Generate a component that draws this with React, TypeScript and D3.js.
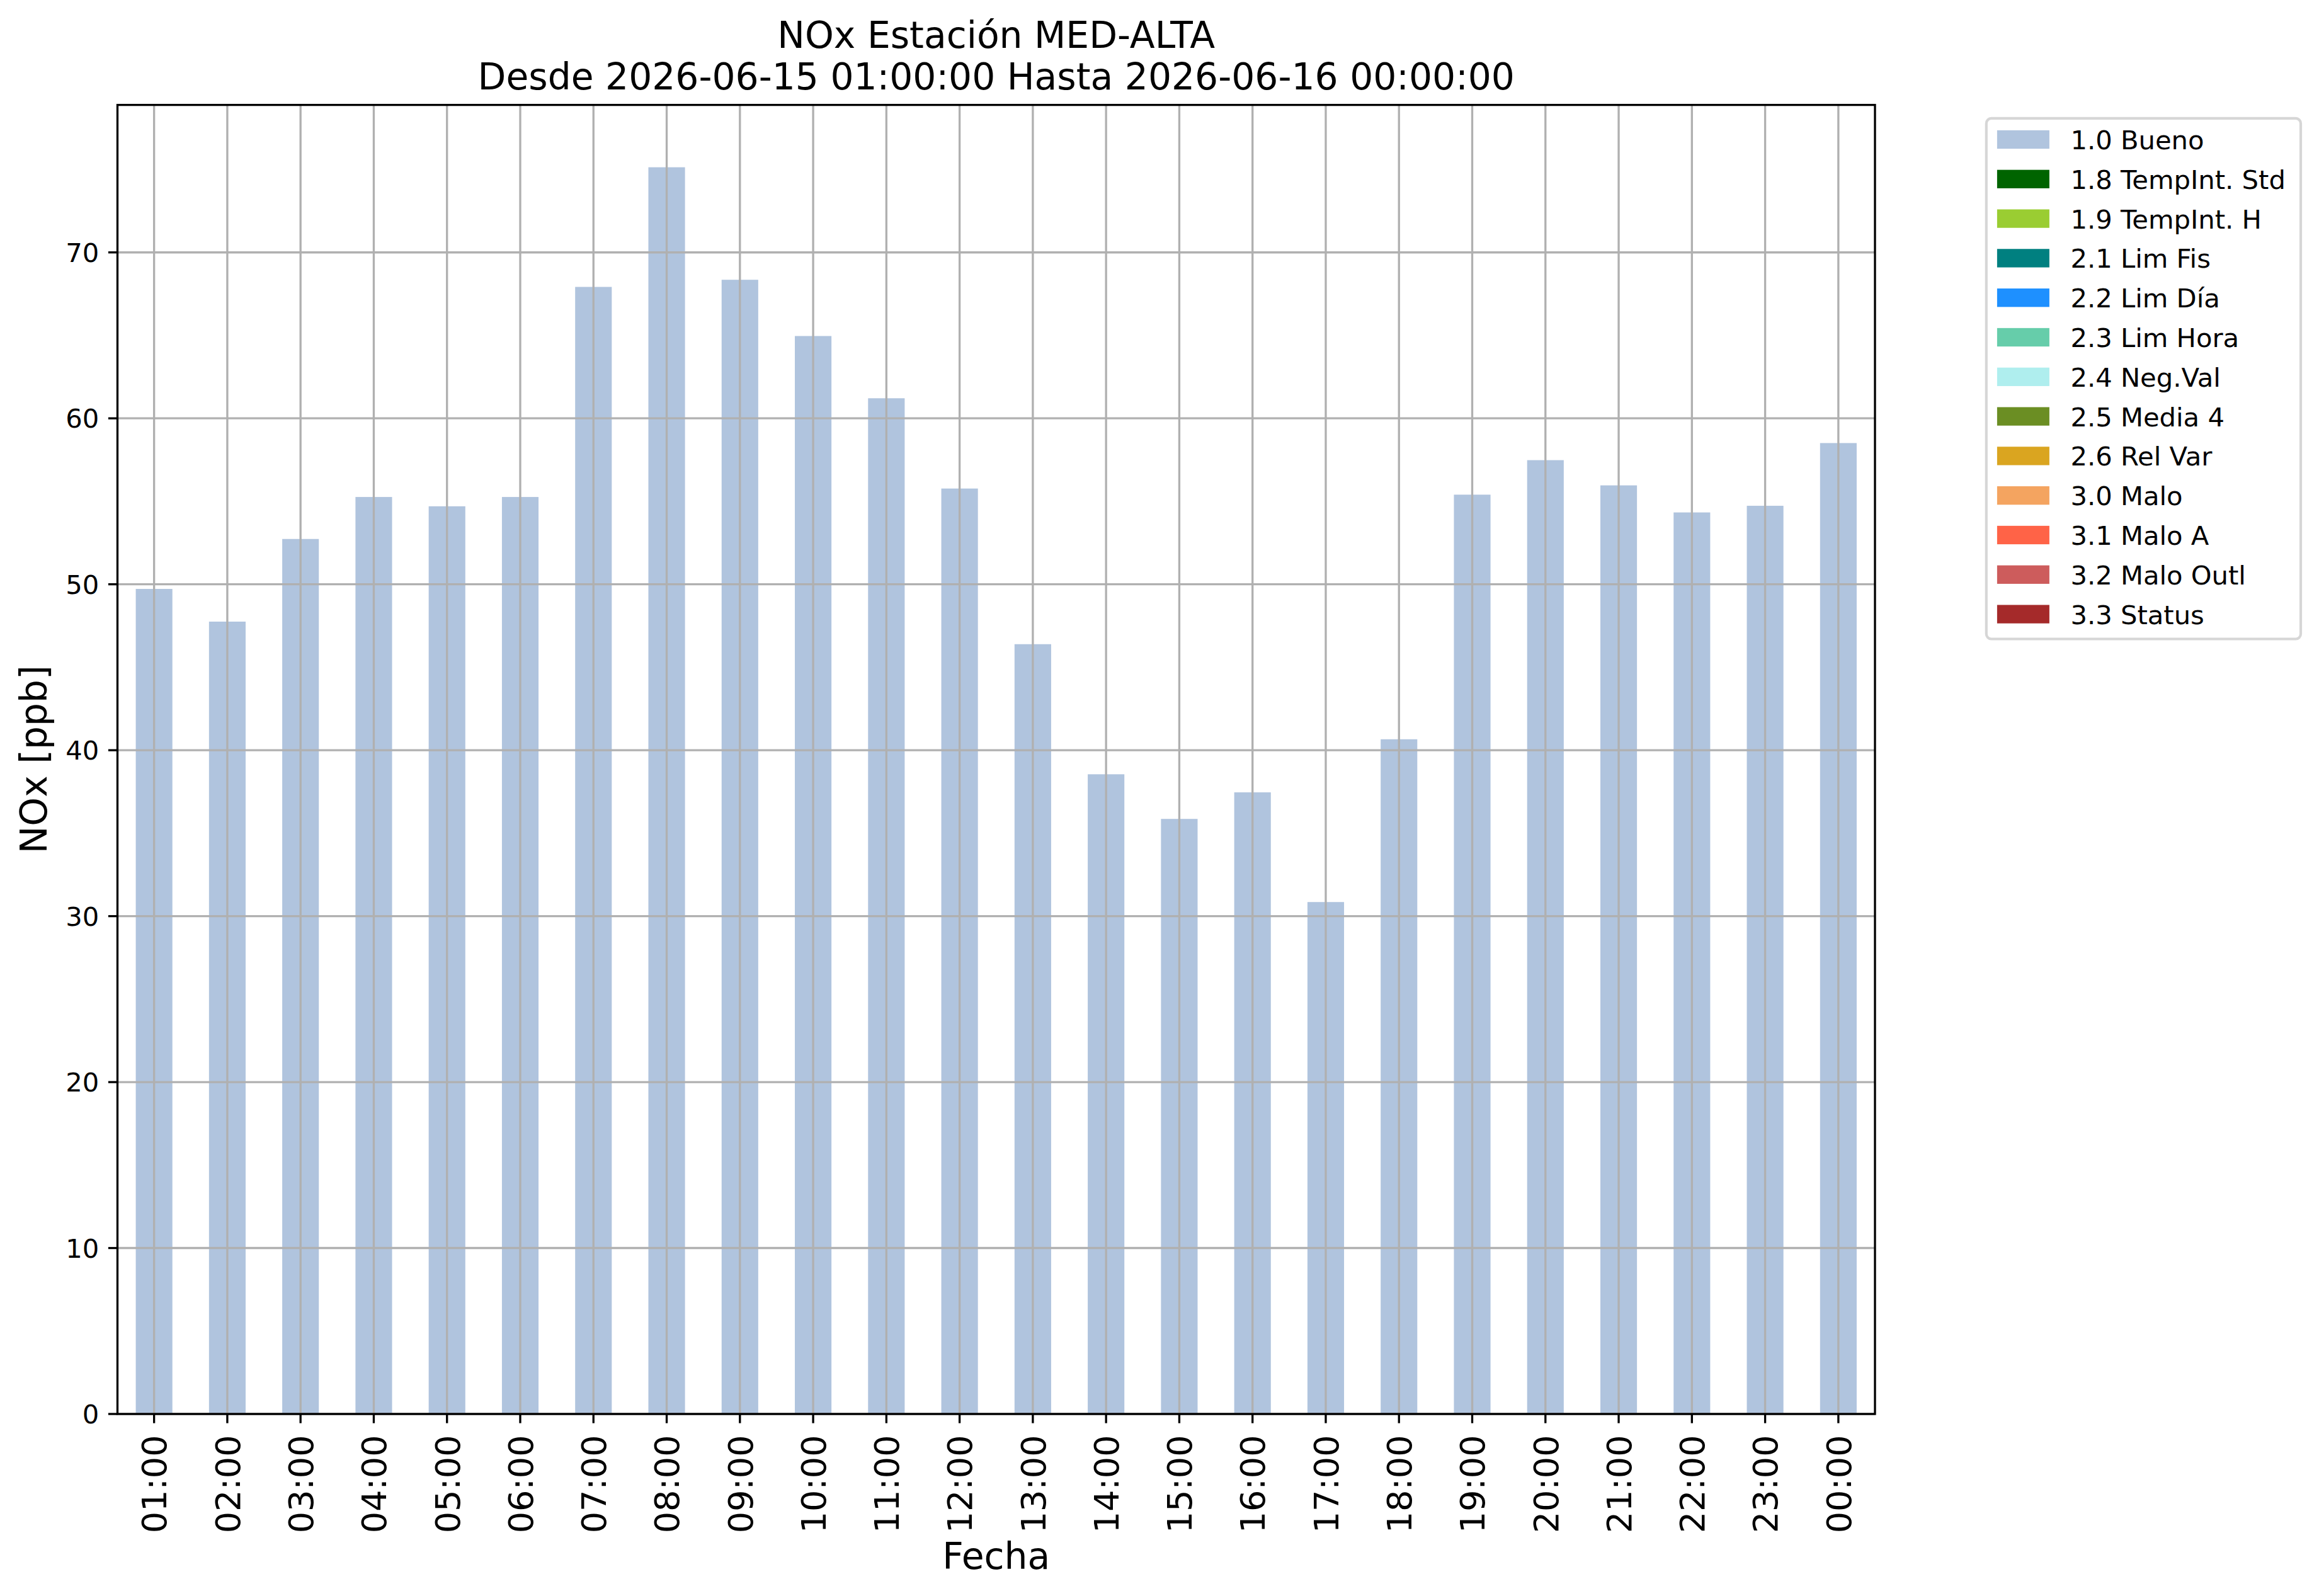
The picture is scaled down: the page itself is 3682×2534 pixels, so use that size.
import React from 'react';
import * as d3 from 'd3';

const hours = ['01:00', '02:00', '03:00', '04:00', '05:00', '06:00', '07:00', '08:00', '09:00', '10:00', '11:00', '12:00',
  '13:00', '14:00', '15:00', '16:00', '17:00', '18:00', '19:00', '20:00', '21:00', '22:00', '23:00', '00:00'];
const noxValues = [49.72, 47.75, 52.73, 55.26, 54.7, 55.26, 67.92, 75.13, 68.35, 64.96, 61.21, 55.77,
  46.39, 38.55, 35.86, 37.46, 30.85, 40.66, 55.4, 57.48, 55.96, 54.33, 54.73, 58.51];
const yTickValues = [0, 10, 20, 30, 40, 50, 60, 70];
const legendLabels = ['1.0 Bueno', '1.8 TempInt. Std', '1.9 TempInt. H', '2.1 Lim Fis', '2.2 Lim Día', '2.3 Lim Hora',
  '2.4 Neg.Val', '2.5 Media 4', '2.6 Rel Var', '3.0 Malo', '3.1 Malo A', '3.2 Malo Outl', '3.3 Status'];
const legendColors = ['#b0c4de', '#006400', '#9acd32', '#008080', '#1e90ff', '#66cdaa', '#afeeee', '#6b8e23',
  '#daa520', '#f4a460', '#ff6347', '#cd5c5c', '#a52a2a'];
const titleLines = ['NOx Estación MED-ALTA', 'Desde 2026-06-15 01:00:00 Hasta 2026-06-16 00:00:00'];
const xLabel = 'Fecha';
const yLabel = 'NOx [ppb]';

const W = 3682;
const H = 2534;
const FONT = "'DejaVu Sans', sans-serif";

export default function App() {
  const left = 186.5, right = 2977, top = 166.6, bottom = 2245;
  const lw = 3.33;
  const tickLen = 14.6;
  const pad = 14.6;

  const x = d3.scaleBand<string>().domain(hours).range([left, right]).paddingInner(0.5).paddingOuter(0.25);
  const ymax = (d3.max(noxValues) as number) * 1.05;
  const y = d3.scaleLinear().domain([0, ymax]).range([bottom, top]);
  const cx = (h: string) => (x(h) as number) + x.bandwidth() / 2;
  const midX = (left + right) / 2;
  const midY = (top + bottom) / 2;

  const legX = 3153.8, legY = 187.9, legW = 3653 - 3153.8, legH = 1014.5 - 187.9;
  const rowStep = 62.8;
  const firstRow = 221.5;

  return (
    <svg width={W} height={H} viewBox={`0 0 ${W} ${H}`} style={{ position: 'absolute', left: 0, top: 0, display: 'block', background: '#fff' }}
      fontFamily={FONT}>
      <rect x={0} y={0} width={W} height={H} fill="#ffffff" />
      {/* bars */}
      {hours.map((h, i) => (
        <rect key={h} x={x(h)} y={y(noxValues[i])} width={x.bandwidth()} height={y(0) - y(noxValues[i])} fill="#b0c4de" />
      ))}
      {/* grid */}
      {hours.map((h) => (
        <line key={'gx' + h} x1={cx(h)} x2={cx(h)} y1={top} y2={bottom} stroke="#b0b0b0" strokeWidth={lw} />
      ))}
      {yTickValues.map((t) => (
        <line key={'gy' + t} x1={left} x2={right} y1={y(t)} y2={y(t)} stroke="#b0b0b0" strokeWidth={lw} />
      ))}
      {/* spines */}
      <rect x={left} y={top} width={right - left} height={bottom - top} fill="none" stroke="#000" strokeWidth={lw} />
      {/* y ticks */}
      {yTickValues.map((t) => (
        <g key={'yt' + t}>
          <line x1={left - tickLen} x2={left} y1={y(t)} y2={y(t)} stroke="#000" strokeWidth={lw} />
          <text x={left - tickLen - pad} y={y(t) + 15} fontSize={41.7} textAnchor="end" fill="#000">{t}</text>
        </g>
      ))}
      {/* x ticks */}
      {hours.map((h) => (
        <g key={'xt' + h}>
          <line x1={cx(h)} x2={cx(h)} y1={bottom} y2={bottom + tickLen} stroke="#000" strokeWidth={lw} />
          <text transform={`translate(${cx(h) + 19.8},${bottom + tickLen + pad + 4}) rotate(-90)`} fontSize={54.2}
            textAnchor="end" fill="#000">{h}</text>
        </g>
      ))}
      {/* axis labels */}
      <text x={midX} y={2490.7} fontSize={58.3} textAnchor="middle" fill="#000">{xLabel}</text>
      <text transform={`translate(74,${midY}) rotate(-90)`} fontSize={58.3} textAnchor="middle" fill="#000">{yLabel}</text>
      {/* title */}
      <text x={midX} y={76} fontSize={58.3} textAnchor="middle" fill="#000">{titleLines[0]}</text>
      <text x={midX} y={141.7} fontSize={58.3} textAnchor="middle" fill="#000">{titleLines[1]}</text>
      {/* legend */}
      <rect x={legX} y={legY} width={legW} height={legH} rx={8} ry={8} fill="#ffffff" fillOpacity={0.8} stroke="#d6d6d6" strokeWidth={4.17} />
      {legendLabels.map((lab, i) => {
        const cy = firstRow + i * rowStep;
        return (
          <g key={lab}>
            <rect x={3170.9} y={cy - 14.65} width={83} height={29.3} fill={legendColors[i]} />
            <text x={3287.4} y={cy + 15.5} fontSize={41.7} fill="#000">{lab}</text>
          </g>
        );
      })}
    </svg>
  );
}
